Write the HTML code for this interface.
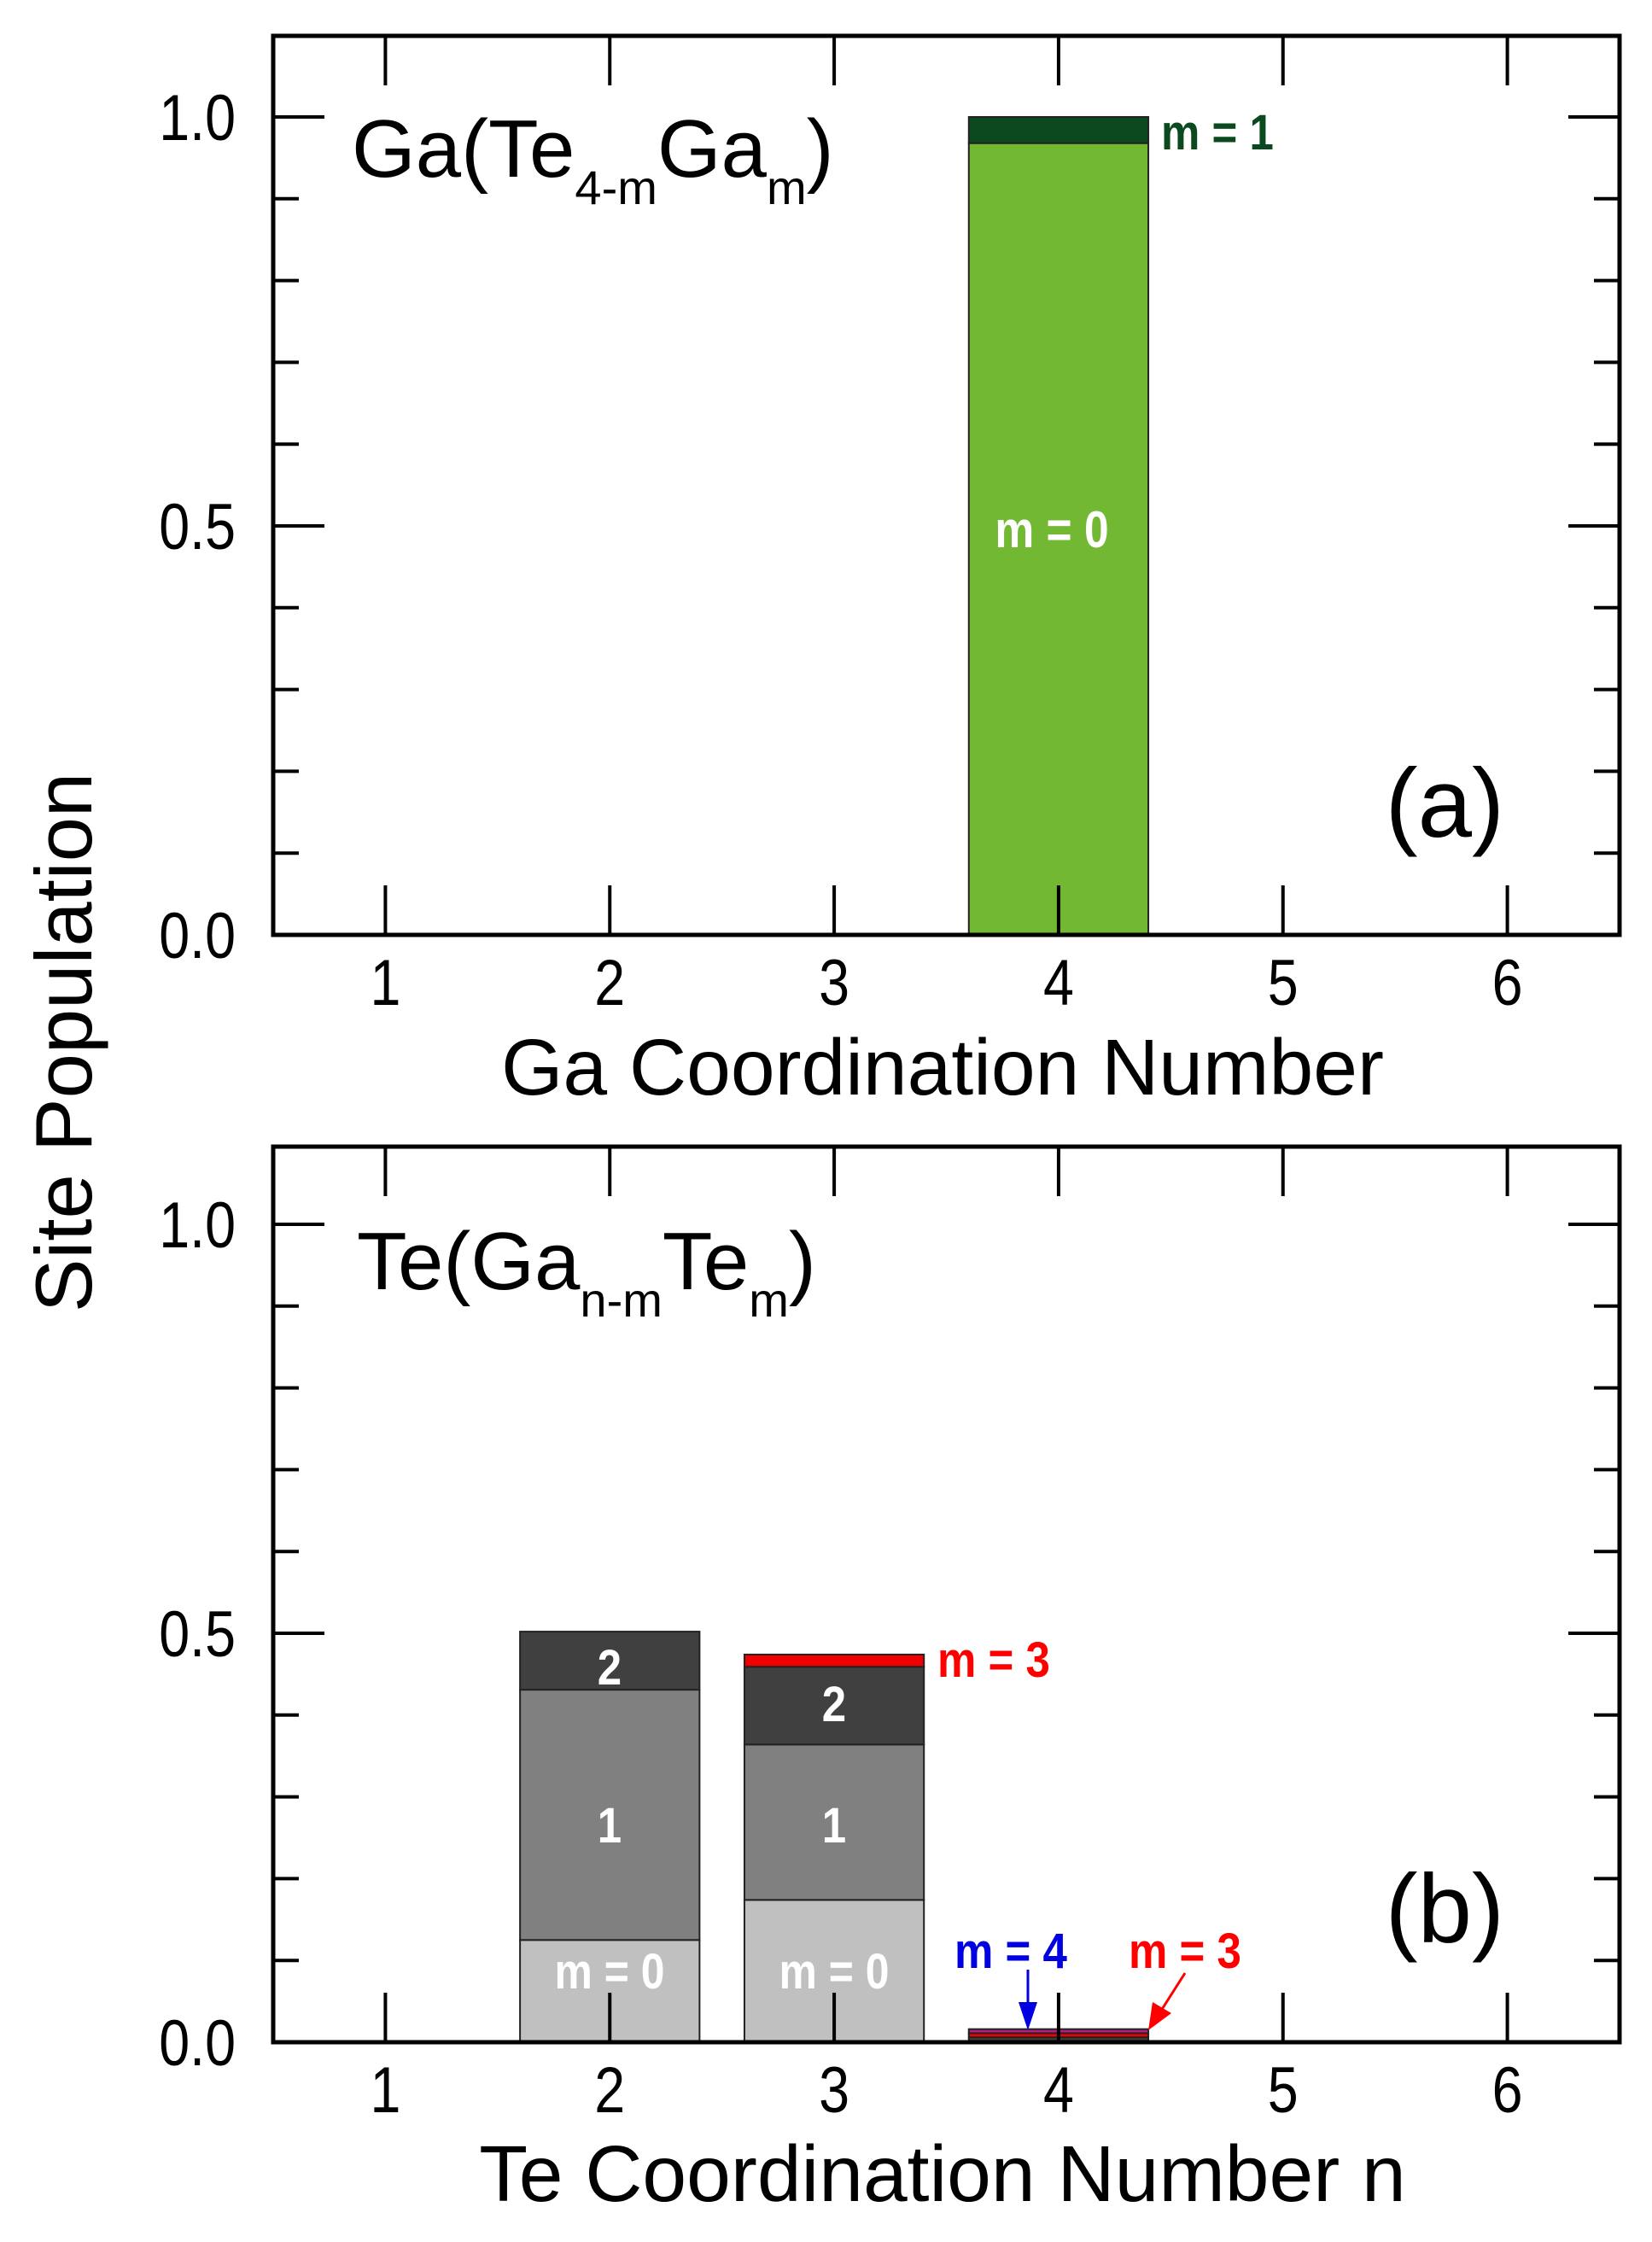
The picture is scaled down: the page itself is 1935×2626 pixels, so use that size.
<!DOCTYPE html>
<html><head><meta charset="utf-8"><style>
body{margin:0;background:#fff}
svg{display:block;font-family:"Liberation Sans",Arial,sans-serif}
</style></head><body>
<svg id="chart" width="1935" height="2626" viewBox="0 0 1935 2626" xmlns="http://www.w3.org/2000/svg">
<text x="0" y="0" transform="translate(107,1221) rotate(-90)" text-anchor="middle" font-size="94">Site Population</text>
<g id="pa"></g>
<g id="pb"></g>
</svg>
<script>
const xTicks = [1,2,3,4,5,6];
const yTickLabels = ["0.0","0.5","1.0"];
const yTickVals = [0,0.5,1.0];
// panel a: Ga coordination, stacked by m
const catsA = [4];
const aM0 = [0.968];
const aM1 = [0.032];
// panel b: Te coordination n, stacked by m
const catsB = [2,3,4];
const bM0 = [0.125,0.174,0];
const bM1 = [0.306,0.190,0];
const bM2 = [0.071,0.095,0.006];
const bM3 = [0,0.015,0.005];
const bM4 = [0,0,0.005];

const NS="http://www.w3.org/2000/svg";
const X0=320,X1=1897;
function xs(v){return X0+(v-0.5)*(X1-X0)/6;}
function mk(parent,tag,attrs,txt){const e=document.createElementNS(NS,tag);for(const k in attrs)e.setAttribute(k,attrs[k]);if(txt!==undefined)e.textContent=txt;parent.appendChild(e);return e;}

function panel(g,yZero,yTop){
  const sc=958;
  const ys=v=>yZero-v*sc;
  return {ys,draw(){
    const box=mk(g,'rect',{x:X0,y:yTop,width:X1-X0,height:yZero-yTop,fill:'none',stroke:'#000','stroke-width':5});
    
    
    for(let i=0;i<=10;i++){
      const v=i/10, maj=(i%5===0), L=maj?60:30, y=ys(v);
      const t1=mk(g,'line',{x1:X0,x2:X0+L,y1:y,y2:y,stroke:'#000','stroke-width':4});
      
      
      const t2=mk(g,'line',{x1:X1,x2:X1-L,y1:y,y2:y,stroke:'#000','stroke-width':4});
      
      
    }
    yTickVals.forEach((v,i)=>{
      const t=mk(g,'text',{x:0,y:0,'text-anchor':'end','font-size':76,transform:'translate(276,'+(ys(v)+27)+') scale(0.85,1)'},yTickLabels[i]);
      
      
    });
    xTicks.forEach(v=>{
      const x=xs(v);
      const a=mk(g,'line',{x1:x,x2:x,y1:yTop,y2:yTop+58,stroke:'#000','stroke-width':4});
      
      
      const t=mk(g,'text',{x:0,y:0,'text-anchor':'middle','font-size':76,transform:'translate('+x+','+(yZero+82)+') scale(0.85,1)'},String(v));
      
      
    });
  },ticksBottom(){
    xTicks.forEach(v=>{
      const x=xs(v);
      const b=mk(g,'line',{x1:x,x2:x,y1:yZero,y2:yZero-58,stroke:'#000','stroke-width':4});
      
      
    });
  }};
}
function stack(g,ys,cat,layers,colors,names){
  let base=0;
  const x=xs(cat-0.4), w=xs(cat+0.4)-xs(cat-0.4);
  layers.forEach((v,i)=>{
    if(v<=0)return;
    const r=mk(g,'rect',{x:x,y:ys(base+v),width:w,height:ys(base)-ys(base+v),fill:colors[i],stroke:'#222','stroke-width':2});
    
    
    base+=v;
  });
}

const ga=document.getElementById('pa');
const PA=panel(ga,1095,42);
catsA.forEach((c,i)=>stack(ga,PA.ys,c,[aM0[i],aM1[i]],['#72b832','#0b4a1f'],['bar-a-m0','bar-a-m1']));
PA.draw();PA.ticksBottom();
const gb=document.getElementById('pb');
const PB=panel(gb,2392,1343);
catsB.forEach((c,i)=>stack(gb,PB.ys,c,[bM0[i],bM1[i],bM2[i],bM3[i],bM4[i]],['#c0c0c0','#808080','#404040','#f00000','#b0207a'],['bar-b-m0','bar-b-m1','bar-b-m2','bar-b-m3','bar-b-m4']));
PB.draw();PB.ticksBottom();
</script>
<svg style="position:absolute;left:0;top:0" width="1935" height="2626">
<g font-family="Liberation Sans, Arial, sans-serif">
<text x="412" y="207" font-size="96">Ga(Te<tspan font-size="56" dy="32">4-m</tspan><tspan dy="-32">Ga</tspan><tspan font-size="56" dy="32">m</tspan><tspan dy="-32">)</tspan></text>
<text x="1762" y="980" text-anchor="end" font-size="114">(a)</text>
<text x="1104" y="1282" text-anchor="middle" font-size="93">Ga Coordination Number</text>
<text transform="translate(1360,175) scale(0.88,1)" font-size="58" font-weight="bold" fill="#0b4a1f">m = 1</text>
<text transform="translate(1232,641) scale(0.86,1)" text-anchor="middle" font-size="60" font-weight="bold" fill="#fff">m = 0</text>

<text x="418" y="1510" font-size="96">Te(Ga<tspan font-size="56" dy="32">n-m</tspan><tspan dy="-32">Te</tspan><tspan font-size="56" dy="32">m</tspan><tspan dy="-32">)</tspan></text>
<text x="1762" y="2275" text-anchor="end" font-size="114">(b)</text>
<text x="1104" y="2578" text-anchor="middle" font-size="93">Te Coordination Number n</text>
<g font-size="58" font-weight="bold" fill="#fff" text-anchor="middle">
<text transform="translate(714,1973) scale(0.88,1)">2</text>
<text transform="translate(714,2158) scale(0.88,1)">1</text>
<text transform="translate(714,2329) scale(0.86,1)">m = 0</text>
<text transform="translate(977,2016) scale(0.88,1)">2</text>
<text transform="translate(977,2158) scale(0.88,1)">1</text>
<text transform="translate(977,2329) scale(0.86,1)">m = 0</text>
</g>
<text transform="translate(1098,1964) scale(0.88,1)" font-size="58" font-weight="bold" fill="#f00">m = 3</text>
<text transform="translate(1118,2305) scale(0.88,1)" font-size="58" font-weight="bold" fill="#0000e0">m = 4</text>
<text transform="translate(1322,2305) scale(0.88,1)" font-size="58" font-weight="bold" fill="#f00">m = 3</text>
<line x1="1204" y1="2307" x2="1204" y2="2355" stroke="#0000e0" stroke-width="3"/>
<polygon points="1193,2345 1215,2345 1204,2378" fill="#0000e0"/>
<line x1="1388" y1="2311" x2="1360" y2="2355" stroke="#f00" stroke-width="3"/>
<polygon points="1350,2345 1372,2358 1345,2378" fill="#f00"/>
</g>
</svg>
</body></html>
